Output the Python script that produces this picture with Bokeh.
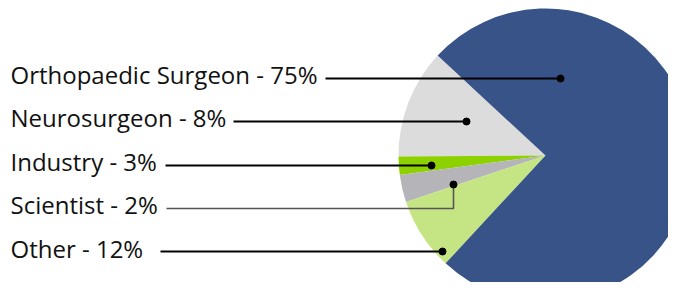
import numpy as np
from bokeh.plotting import figure
from bokeh.models import Range1d, ColumnDataSource
from bokeh.core.properties import value
from bokeh.embed import file_html
from bokeh.resources import INLINE

# slices in drawing order (anticlockwise from the top-left edge)
slice_names = ["Neurosurgeon", "Industry", "Scientist", "Other", "Orthopaedic Surgeon"]
slice_values = [12, 2, 3, 8, 75]
slice_colors = ["#dcdcdd", "#8ed100", "#b5b5b9", "#c5e483", "#375388"]

labels = ["Orthopaedic Surgeon - 75%", "Neurosurgeon - 8%", "Industry - 3%",
          "Scientist - 2%", "Other - 12%"]

W, H = 668, 282
def Y(ys):
    return H - ys

p = figure(width=W, height=H, x_range=Range1d(0, W), y_range=Range1d(0, H),
           output_backend="svg", toolbar_location=None, min_border=0)
p.axis.visible = False
p.grid.visible = False
p.outline_line_color = None
p.background_fill_color = "white"

cx, cy, r = 545, Y(155), 147
start_deg = 137.2
vals = np.array(slice_values, dtype=float)
fr = vals / vals.sum()
ends = start_deg + 360 * np.cumsum(fr)
starts = np.concatenate([[start_deg], ends[:-1]])
src = ColumnDataSource(dict(start=np.radians(starts), end=np.radians(ends), color=slice_colors))
p.wedge(x=cx, y=cy, radius=r, start_angle="start", end_angle="end", fill_color="color",
        line_color=None, source=src)

# labels
label_x = 10
label_base = [74, 117, 161, 204, 248]
p.text(x=[label_x] * 5, y=[Y(b) for b in label_base], text=labels,
       text_font=value("Open Sans"), text_font_size="24px", text_color="#111111",
       text_baseline="alphabetic", text_align="left")

# leader lines
lead_start = [325, 233, 165, 166, 160]
lead_y = [78, 121, 165, 208, 251]
dot_x = [560, 466, 431, 453, 442]
dot_y = [78, 121, 165, 184, 251]
line_cols = ["#000000", "#000000", "#000000", "#555555", "#000000"]
for i in range(5):
    if i == 3:
        xs = [lead_start[i], dot_x[i], dot_x[i]]
        ys = [Y(lead_y[i]), Y(lead_y[i]), Y(dot_y[i])]
        w = 1.6
    else:
        xs = [lead_start[i], dot_x[i]]
        ys = [Y(lead_y[i]), Y(dot_y[i])]
        w = 2
    p.line(xs, ys, line_color=line_cols[i], line_width=w)
p.scatter([x for x in dot_x], [Y(y) for y in dot_y], size=7, color="#000000")

open("out.html", "w").write(file_html(p, INLINE))
